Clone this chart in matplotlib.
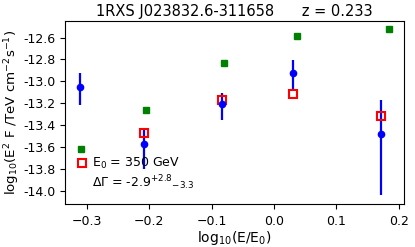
import numpy as np
import matplotlib
matplotlib.use('Agg')
import matplotlib.pyplot as plt
from matplotlib.lines import Line2D
from matplotlib.ticker import FormatStrFormatter

# measured points (blue, with asymmetric errors)
x_obs = [-0.310, -0.208, -0.083, 0.030, 0.171]
y_obs = [-13.057, -13.573, -13.209, -12.921, -13.485]
y_up = [-12.925, -13.43, -13.112, -12.809, -13.173]
y_lo = [-13.218, -13.803, -13.355, -13.09, -14.043]

# model points (red open squares)
x_mod = [-0.208, -0.083, 0.030, 0.171]
y_mod = [-13.47, -13.173, -13.115, -13.318]

# intrinsic points (green squares)
x_int = [-0.309, -0.205, -0.080, 0.036, 0.1835]
y_int = [-13.621, -13.264, -12.83, -12.59, -12.52]

fig = plt.figure(figsize=(4.15, 2.47), dpi=100)
ax = fig.add_axes([0.1566, 0.176, 0.817, 0.741])

yerr = [np.array(y_obs) - np.array(y_lo), np.array(y_up) - np.array(y_obs)]
ax.errorbar(x_obs, y_obs, yerr=yerr, fmt='o', color='blue', ms=4.5, elinewidth=1.6, capsize=0)
p1, = ax.plot(x_mod, y_mod, 's', mfc='none', mec='red', mew=1.5, ms=6)
ax.plot(x_int, y_int, 's', color='green', ms=4.5)

ax.yaxis.set_major_formatter(FormatStrFormatter('%.1f'))
ax.set_yticks(np.arange(-14.0, -12.55, 0.2))
ax.set_xticks([-0.3, -0.2, -0.1, 0.0, 0.1, 0.2])
ax.tick_params(labelsize=9)
ax.tick_params(axis='x', pad=4.5)

ax.set_title('1RXS J023832.6-311658      z = 0.233', fontsize=10.5, pad=3)
ax.set_xlabel('log$_{10}$(E/E$_0$)', fontsize=10, labelpad=1)
ax.set_ylabel('log$_{10}$(E$^2$ F /TeV cm$^{-2}$s$^{-1}$)', fontsize=9.6, labelpad=0.5)

empty = Line2D([], [], linestyle='none')
ax.legend([p1, empty], ['E$_0$ = 350 GeV', '$\\Delta\\Gamma$ = -2.9$^{+2.8}$$_{-3.3}$'],
          loc='lower left', frameon=False, fontsize=9, handlelength=0.8,
          handletextpad=0.4, borderaxespad=0.55, labelspacing=0.15)

fig.savefig('out.png', dpi=100)
